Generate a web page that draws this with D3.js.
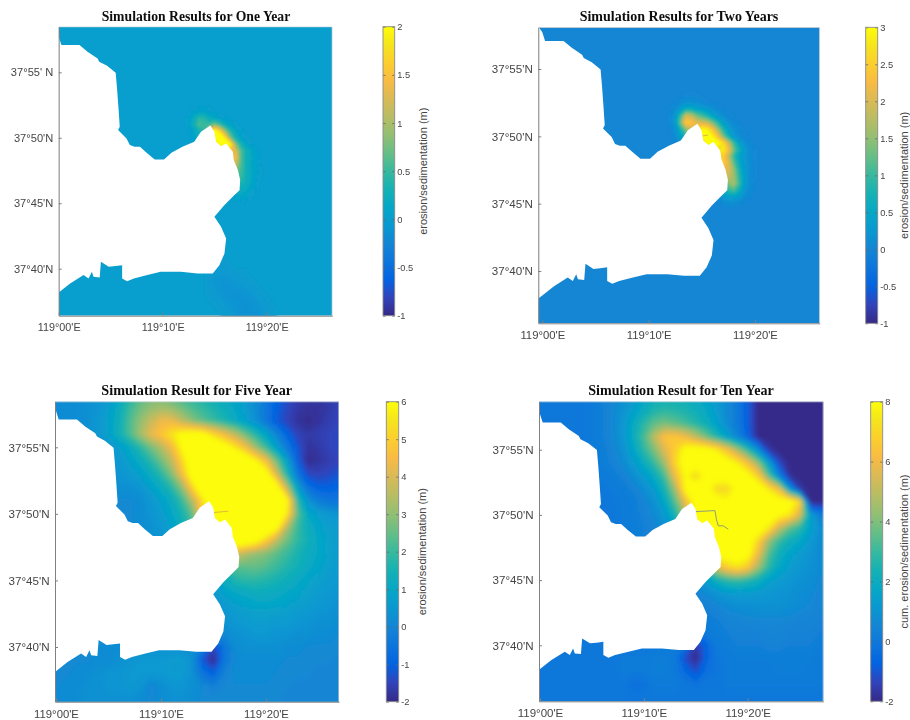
<!DOCTYPE html>
<html>
<head>
<meta charset="utf-8">
<script src="https://cdn.jsdelivr.net/npm/d3@7"></script>
<style>
  html, body { margin: 0; background: #fff; }
  svg { display: block; }
  text { font-family: "Liberation Sans", Arial, sans-serif; fill: #454545; }
  .title { font-family: "Liberation Serif", serif; font-weight: bold; fill: #111; }
</style>
</head>
<body>
<svg id="chart" width="910" height="720"></svg>
<script>
// ---- data ----
const lonTicks = [0, 10, 20];
const latTicks = [55, 50, 45, 40];
const lonLabels = ["119°00'E", "119°10'E", "119°20'E"];
const latLabelsOne = ["37°55' N", "37°50'N", "37°45'N", "37°40'N"];
const latLabels = ["37°55'N", "37°50'N", "37°45'N", "37°40'N"];

const titles = [
  "Simulation Results for One Year",
  "Simulation Results for Two Years",
  "Simulation Result for Five Year",
  "Simulation Result for Ten Year"
];
const barLabels = [
  "erosion/sedimentation (m)",
  "erosion/sedimentation (m)",
  "erosion/sedimentation (m)",
  "cum. erosion/sedimentation (m)"
];
const barTicksOne = [-1, -0.5, 0, 0.5, 1, 1.5, 2];
const barTicksTwo = [-1, -0.5, 0, 0.5, 1, 1.5, 2, 2.5, 3];
const barTicksFive = [-2, -1, 0, 1, 2, 3, 4, 5, 6];
const barTicksTen = [-2, 0, 2, 4, 6, 8];

// coast, as [minutes east of 119°, minutes north of 37°]
const coast = [
  [-2, 60], [0, 57.72], [0.26, 57.08], [2, 57.08], [2.77, 56.57], [3.74, 56.06], [3.9, 55.81],
  [4.65, 55.5], [5.48, 54.97], [5.61, 53.77], [5.74, 52.37], [5.87, 50.84], [5.71, 50.59],
  [6.52, 49.95], [6.84, 49.44], [7.29, 49.31], [7.81, 49.31], [8.45, 48.85], [9.23, 48.34],
  [10.13, 48.34], [10.84, 48.85], [11.9, 49.31], [13.03, 49.69], [13.68, 50.46], [14.58, 50.94],
  [14.97, 50.46], [15.13, 49.69], [15.61, 49.36], [16.1, 49.57], [16.74, 48.93], [16.84, 48.29],
  [17.23, 47.53], [17.45, 46.77], [17.39, 46], [16.9, 45.62], [15.94, 44.86], [14.97, 43.96],
  [15.61, 43.2], [16.1, 42.31], [15.94, 41.16], [15.45, 40.27], [14.81, 39.64], [13.35, 39.64],
  [11.74, 39.76], [9.81, 39.76], [8.52, 39.51], [7.23, 39.25], [6.58, 39.05], [6.1, 39.25],
  [6.1, 40.27], [5.45, 40.2], [4.81, 40.15], [4.06, 40.53], [3.94, 39.33], [3.35, 39.38],
  [3.19, 39.76], [2.87, 39.25], [2.39, 39.51], [1.1, 38.87], [0, 38.18], [-2, 37]
];

// thin structures visible inside the deposit
const dykeTwo = [[14.83, 50], [15.6, 50.1]];
const dykeFive = [[15, 50.1], [16.4, 50.2]];
const dykeTen = [[14.93, 50.25], [16.85, 50.33], [17, 49.62], [17.17, 49.16], [17.65, 49.16], [18.13, 48.9]];

// fine fields near the headland: lon 12..20, lat 53..45, every 0.5'
const tipOne = [
  [0,0,0,0,0,0,0,0,0,0,0,0,0,0,0,0,0],
  [0,0,0,0,0,0,0,0,0,0,0,0,0,0,0,0,0],
  [0,0,.05,.08,.08,.05,.02,0,0,0,0,0,0,0,0,0,0],
  [0,.05,.2,.45,.4,.2,.12,.06,.02,0,0,0,0,0,0,0,0],
  [0,.05,.25,.6,.5,.5,.8,.5,.2,.08,.03,0,0,0,0,0,0],
  [0,0,.1,.3,.4,1.6,2.2,1.7,.9,.4,.15,.05,0,0,0,0,0],
  [0,0,.1,.2,.4,1.6,2.4,2.4,1.8,.8,.3,.1,.03,0,0,0,0],
  [0,0,0,.1,.2,.4,1.4,2.2,2.4,2,.8,.35,.12,.04,0,0,0],
  [0,0,0,0,.1,.2,.3,.6,1,1.5,1.3,.6,.3,.15,.05,0,0],
  [0,0,0,0,0,.1,.2,.4,.8,1.3,1.5,.6,.3,.15,.06,0,0],
  [0,0,0,0,0,0,.1,.2,.5,1.1,1.2,.6,.3,.15,.05,0,0],
  [0,0,0,0,0,0,0,.1,.3,.6,.8,.55,.3,.15,.06,.02,0],
  [0,0,0,0,0,0,0,.05,.2,.4,.5,.5,.3,.15,.05,.02,0],
  [0,0,0,0,0,0,0,0,.1,.2,.3,.35,.25,.12,.04,0,0],
  [0,0,0,0,0,0,0,0,.05,.1,.2,.2,.15,.08,.03,0,0],
  [0,0,0,0,0,0,0,0,0,.05,.1,.1,.08,.04,0,0,0],
  [0,0,0,0,0,0,0,0,0,0,0,0,0,0,0,0,0]
];
const tipTwo = [
  [0,0,.02,.03,.03,.03,.02,.01,0,0,0,0,0,0,0,0,0],
  [0,.03,.1,.16,.16,.12,.08,.04,.02,0,0,0,0,0,0,0,0],
  [.03,.12,.4,.7,.65,.5,.4,.3,.16,.08,.03,0,0,0,0,0,0],
  [.05,.25,1,2,1.9,1.4,1.1,.8,.5,.28,.14,.05,.02,0,0,0,0],
  [.05,.3,1.3,2.5,2.4,2.1,2,1.9,1.4,.85,.42,.2,.08,.02,0,0,0],
  [0,.15,.7,1.4,1.8,2.6,3,2.9,2.4,1.6,.85,.4,.18,.07,.02,0,0],
  [0,.1,.4,.8,1.2,2.6,3.2,3.2,2.9,2.3,1.4,.7,.3,.12,.04,0,0],
  [0,0,.2,.4,.6,1,2.2,3.2,3.3,3.1,2.7,1.9,1,.45,.18,.06,0],
  [0,0,.1,.2,.4,.7,1,1.5,2.2,2.6,2.9,2.3,1.3,.7,.32,.12,.03],
  [0,0,0,.1,.2,.4,.7,1.2,1.8,2.7,2.5,1.8,.95,.5,.25,.1,.03],
  [0,0,0,0,.1,.2,.4,.7,1.3,2.5,2.5,2.1,1.2,.6,.3,.12,.03],
  [0,0,0,0,0,.1,.2,.4,.8,1.5,2,2.1,1.5,.75,.33,.12,.03],
  [0,0,0,0,0,0,.1,.2,.5,1,1.5,1.9,1.6,.9,.36,.12,.03],
  [0,0,0,0,0,0,0,.1,.3,.6,1,1.4,1.7,1,.35,.12,.02],
  [0,0,0,0,0,0,0,.05,.15,.3,.6,.9,1.1,.7,.28,.08,.02],
  [0,0,0,0,0,0,0,0,.05,.1,.3,.4,.4,.3,.12,.04,0],
  [0,0,0,0,0,0,0,0,0,0,.05,.08,.08,.05,.02,0,0]
];
// faint scour south of the headland, one year: lon 13..21, lat 42..36, every 1'
const southOne = [
  [0,0,0,0,0,0,0,0,0],
  [0,0,0,0,0,0,0,0,0],
  [0,0,-.02,-.03,0,0,0,0,0],
  [0,0,-.08,-.1,-.06,-.02,0,0,0],
  [0,0,-.03,-.1,-.12,-.1,-.04,0,0],
  [0,0,0,-.03,-.1,-.14,-.1,-.03,0],
  [0,0,0,0,-.05,-.12,-.12,-.05,0]
];

// whole-domain fields: lon -1..28, lat 59..36, every 1'
const fieldFive = [
  [.1,.1,.2,.2,.3,.4,.6,1,1.6,2.2,2.6,2.6,2.4,2,1.7,1.5,1.3,1.1,.9,.6,.2,-.3,-.9,-1.3,-1.6,-1.7,-1.7,-1.6,-1.5,-1.5],
  [.1,.1,.2,.2,.3,.4,.7,1.2,2,2.6,3,3.2,3,2.6,2.2,1.9,1.6,1.3,1,.7,.2,-.4,-1,-1.4,-1.7,-1.8,-1.8,-1.7,-1.5,-1.5],
  [.1,.1,.2,.2,.3,.5,.8,1.3,2.2,3,3.7,4.3,4.3,3.6,2.9,2.4,2,1.6,1.2,.8,.3,-.4,-1.1,-1.5,-1.8,-1.95,-1.8,-1.6,-1.5,-1.5],
  [.1,.1,.2,.2,.3,.5,.8,1.4,2.2,3.2,4.2,4.8,5.5,6.1,6.3,6.1,5.2,4.4,3.6,2.6,1.7,.9,0,-.9,-1.5,-1.7,-1.6,-1.5,-1.4,-1.4],
  [.1,.1,.1,.2,.2,.3,.5,.7,1.1,1.8,2.6,3.4,4.4,6,7,7,7,6.5,5.6,4.6,3.2,2,.8,-.3,-1.2,-1.8,-1.7,-1.5,-1.4,-1.4],
  [.1,.1,.1,.1,.2,.2,.4,.5,.8,1.2,1.8,2.6,3.6,5.2,6.8,7.5,7.5,7.5,7.5,6.8,5.8,4.5,2.6,.8,-1,-1.95,-1.8,-1.6,-1.5,-1.5],
  [.1,.1,.1,.1,.1,.2,.3,.4,.6,.8,1.2,1.8,2.8,4.5,6.5,7.5,7.5,7.5,7.5,7.5,7.5,6.4,4,1.6,-.4,-1.4,-1.5,-1.4,-1.2,-1.2],
  [.1,.1,.1,.1,.1,.1,.2,.3,.3,.4,.8,1.2,1.8,3,5.2,7,7.5,7.5,7.5,7.5,7.5,7.5,6.4,3.5,.8,-.6,-1,-1,-.9,-.9],
  [0,0,.1,.1,.1,.1,.1,.1,.1,.2,.5,.8,1.2,2,3.5,5.5,7,7.5,7.5,7.5,7.5,7.5,7.2,6,1.8,.4,-.2,-.5,-.5,-.5],
  [0,0,.1,.1,.1,.1,.1,.1,.1,.2,.4,.6,1,1.5,2.5,5,7,7.5,7.5,7.5,7.5,7.5,7,5.6,2.4,1,.7,.5,.4,.4],
  [0,0,.1,.1,.1,.1,.1,.1,.1,.2,.3,.5,.8,1.2,2,4,7,7.5,7.5,7.5,7.5,7,6.2,3.4,2,1.3,.9,.7,.6,.6],
  [0,0,.1,.1,.1,.1,.1,.1,.1,.2,.3,.4,.6,.8,1.5,3,6,7,7,6.8,6.2,5,3.6,2.6,1.9,1.4,1,.8,.6,.6],
  [0,0,.1,.1,.1,.1,.1,.1,.1,.2,.2,.3,.4,.4,.5,.6,1,3,4,3.4,3,2.8,2.4,2,1.6,1.2,1,.8,.6,.6],
  [0,0,.1,.1,.1,.1,.1,.1,.1,.1,.2,.2,.3,.3,.4,.5,.8,1.5,2.4,2.4,2.5,2.3,2,1.7,1.4,1.1,.9,.7,.6,.6],
  [0,0,.1,.1,.1,.1,.1,.1,.1,.1,.2,.2,.3,.3,.4,.4,.6,1.2,1.6,1.8,1.8,1.7,1.5,1.3,1.1,.9,.8,.6,.5,.5],
  [0,0,.1,.1,.1,.1,.1,.1,.1,.1,.2,.2,.3,.3,.4,.4,.6,.8,1,1.1,1.2,1.2,1.1,1,.9,.8,.6,.5,.4,.4],
  [0,0,.1,.1,.1,.1,.1,.1,.1,.1,.2,.2,.3,.3,.3,.3,.4,.5,.7,.8,.9,.9,.9,.8,.7,.6,.5,.4,.3,.3],
  [0,0,.1,.1,.1,.1,.1,.1,.1,.1,.2,.2,.2,.2,.3,.3,.3,.4,.5,.6,.7,.7,.6,.6,.5,.4,.3,.3,.2,.2],
  [0,0,.1,.1,.1,.1,.1,.1,.2,.2,.2,.2,.2,.2,.2,.2,.2,.1,.3,.4,.5,.5,.4,.4,.3,.3,.2,.2,.1,.1],
  [0,0,.1,.1,.1,.1,.2,.2,.3,.3,.3,.3,.3,.3,.3,-.3,-1.5,-.5,.2,.3,.3,.3,.3,.2,.2,.1,.1,.1,.1,.1],
  [0,.1,.1,.1,.1,.2,.2,.3,.4,.5,.5,.5,.6,.6,.3,-1.2,-2,-.4,.1,.2,.2,.2,.2,.1,.1,.1,.1,.1,0,0],
  [0,.1,.1,.2,.2,.3,.4,.4,.5,.5,.5,.5,.6,.6,.3,-.5,-.9,-.1,.2,.2,.2,.2,.1,.1,.1,.1,0,0,0,0],
  [.1,.1,.2,.2,.3,.3,.4,.4,.5,.4,0,.2,.4,.4,.3,.1,-.1,.1,.1,.1,.1,.1,.1,.1,0,0,0,0,0,0],
  [.1,.1,.2,.2,.3,.3,.3,.3,.3,.2,.1,.2,.3,.3,.2,.1,.1,.1,.1,.1,.1,.1,.1,0,0,0,0,0,0,0]
];
const fieldTen = [
  [0,0,0,0,0,0,.1,.3,.5,.8,1.2,1.7,2.1,2.2,2.2,2.1,1.9,1.6,1.2,.7,.1,-.8,-2,-2.2,-2.2,-2.2,-2.2,-2.2,-2.2,-2.2],
  [0,0,0,0,0,0,.1,.3,.6,1,1.5,2,2.6,2.8,2.7,2.5,2.2,1.8,1.3,.7,.1,-.8,-2,-2.2,-2.2,-2.2,-2.2,-2.2,-2.2,-2.2],
  [0,0,0,0,0,0,.1,.3,.6,1.1,1.9,2.8,3.6,3.9,3.6,3.2,2.7,2.2,1.5,.8,.1,-.8,-2.1,-2.2,-2.2,-2.2,-2.2,-2.2,-2.2,-2.2],
  [0,0,0,0,0,0,.1,.3,.6,1.1,2,3.2,5,6.4,6.5,6,5,3.8,2.6,1.5,.5,-.6,-2,-2.2,-2.2,-2.2,-2.2,-2.2,-2.2,-2.2],
  [0,0,0,0,0,0,.1,.2,.5,.9,1.7,2.8,4,5.6,6.8,8.2,8.5,8.3,7.6,6.3,4.6,2.8,.8,-1.6,-2.2,-2.2,-2.2,-2.2,-2.2,-2.2],
  [0,0,0,0,0,0,.1,.2,.4,.7,1.3,2,3,4.5,7,8.5,8.5,8.5,8.5,8.4,7.6,6.2,4.2,1.5,-1.2,-2.2,-2.2,-2.2,-2.2,-2.2],
  [0,0,0,0,0,0,0,.1,.2,.4,.8,1.3,2,3.2,6,8,7,8.2,8.5,8.5,8.5,8.2,6.8,3.5,.5,-1.8,-2.2,-2.2,-2.2,-2.2],
  [0,0,0,0,0,0,0,0,.1,.2,.4,.8,1.3,2.4,4.5,8,8.5,8.3,7,7,8.2,8.5,8.5,7.5,6,1.2,-1.6,-2.2,-2.2,-2.2],
  [0,0,0,0,0,0,0,0,0,.1,.2,.5,.9,1.8,3.4,6,8.5,8.5,8.5,8,8.2,8.5,8.5,8.5,8.5,8.5,7,-2.2,-2.2,-2.2],
  [0,0,0,0,0,0,0,0,0,.1,.2,.4,.7,1.2,2.4,4.5,8.5,8.5,8.5,8.5,8.5,8.5,8.5,8.5,8,7.5,5.5,1.5,.3,.1],
  [0,0,0,0,0,0,0,0,0,.1,.2,.3,.5,.8,1.5,3,7,8.5,8.5,8.5,8.5,8.5,8.5,7.5,5.2,3.6,2.8,1.6,.8,.5],
  [0,0,0,0,0,0,0,0,0,.1,.2,.3,.5,.7,1,1.6,3,7,8.5,8.5,8.5,8.5,7,4.4,3,2.2,1.8,1.2,.7,.5],
  [0,0,0,0,0,0,0,0,0,.1,.2,.2,.3,.5,.7,1.2,2,5,8.5,8.5,8.5,8.3,6,3.4,2.2,1.6,1.3,1,.7,.5],
  [0,0,0,0,0,0,0,0,0,.1,.1,.2,.3,.4,.5,.8,1.2,3,5.5,6.8,7.4,6.6,4.6,2.8,1.8,1.4,1.1,.9,.7,.5],
  [0,0,0,0,0,0,0,0,0,.1,.1,.1,.2,.3,.3,.5,.8,1.5,2.2,2.8,3,2.7,2.2,1.6,1.3,1.1,.9,.8,.6,.5],
  [0,0,0,0,0,0,0,0,0,.1,.1,.1,.1,.2,.2,.3,.5,.7,1,1.2,1.3,1.3,1.2,1.1,1,.9,.8,.7,.5,.4],
  [0,0,0,0,0,0,0,0,0,0,0,.1,.1,.1,.2,.2,.3,.4,.5,.7,.8,.8,.9,.9,.9,.8,.7,.6,.5,.4],
  [0,0,0,0,0,0,0,0,0,0,0,.1,.1,.1,.1,.2,.2,.2,.3,.5,.5,.6,.6,.6,.6,.6,.5,.5,.4,.3],
  [0,0,0,0,0,0,0,0,0,0,0,0,.1,.1,.1,.1,.1,.1,.2,.3,.4,.4,.4,.5,.5,.4,.4,.4,.3,.2],
  [0,0,0,0,0,0,0,0,0,0,0,0,0,.1,.1,-.2,-1.6,-.6,.1,.2,.3,.3,.3,.4,.4,.3,.3,.3,.2,.2],
  [0,0,0,0,0,0,0,0,0,.1,.1,.1,.2,.2,.1,-1.2,-2.2,-.6,0,.1,.2,.2,.2,.2,.2,.2,.2,.2,.1,.1],
  [0,0,0,0,0,0,0,0,0,.1,.1,.1,.2,.2,.1,-.5,-1.1,-.3,-.1,.1,.1,.1,.1,.1,.2,.2,.2,.1,.1,.1],
  [0,0,0,0,0,0,0,0,0,0,-.3,-.2,.1,.1,.1,0,-.2,0,0,.1,.1,.1,.1,.1,.1,.1,.1,.1,.1,0],
  [0,0,0,0,0,0,0,0,0,0,-.1,0,0,0,0,0,0,0,0,0,0,0,0,0,0,0,0,0,0,0]
];

// colour ramp of the colour bars, low to high
const ramp = ["#352a87","#3243ba","#0363e1","#0d75dc","#1485d4","#0998d1","#06a7c6","#15b1b4","#38b99e",
  "#65be86","#92bf73","#b7bd64","#d9ba56","#f8bb44","#fcce2e","#f5e41d","#fdfd08"];

// ---- layout ----
const panels = [
  { left: 58.7, right: 332.3, top: 26.7, bottom: 315.7, lonPx: [58.7, 266.7], latPx: [72.3, 268.7],
    lo: -1, hi: 2, title: titles[0], titleX: 196, titleY: 21, titleSize: 13.7, latText: latLabelsOne,
    lonSize: 10.8, latSize: 11.1, ticks: barTicksOne,
    barX: 383, barW: 11.7, barLabelX: 427, barLabel: barLabels[0], blur: "blurTip", dyke: null,
    layers: [{ lon0: 13, lat0: 42, step: 1, rows: southOne, mode: "below" },
             { lon0: 12, lat0: 53, step: 0.5, rows: tipOne, mode: "above" }] },
  { left: 538.3, right: 819.7, top: 27.3, bottom: 323.3, lonPx: [542.3, 755], latPx: [69, 271],
    lo: -1, hi: 3, title: titles[1], titleX: 679, titleY: 21, titleSize: 14, latText: latLabels,
    lonSize: 11.3, latSize: 11.6, ticks: barTicksTwo,
    barX: 865.7, barW: 12, barLabelX: 907.5, barLabel: barLabels[1], blur: "blurTip", dyke: dykeTwo,
    layers: [{ lon0: 12, lat0: 53, step: 0.5, rows: tipTwo, mode: "above" }] },
  { left: 55, right: 339, top: 401.7, bottom: 701.7, lonPx: [56, 266], latPx: [447.3, 647],
    lo: -2, hi: 6, title: titles[2], titleX: 196.7, titleY: 395, titleSize: 14.2, latText: latLabels,
    lonSize: 11.3, latSize: 11.6, ticks: barTicksFive,
    barX: 386.3, barW: 12.4, barLabelX: 425.5, barLabel: barLabels[2], blur: "blurField", dyke: dykeFive,
    layers: [{ lon0: -1, lat0: 59, step: 1, rows: fieldFive, mode: "full" }] },
  { left: 539, right: 823.3, top: 401.7, bottom: 701.3, lonPx: [540, 747.7], latPx: [449.7, 645.3],
    lo: -2, hi: 8, title: titles[3], titleX: 681, titleY: 395, titleSize: 14.1, latText: latLabels,
    lonSize: 11.5, latSize: 11.6, ticks: barTicksTen,
    barX: 870.7, barW: 12, barLabelX: 907.5, barLabel: barLabels[3], blur: "blurField", dyke: dykeTen,
    layers: [{ lon0: -1, lat0: 59, step: 1, rows: fieldTen, mode: "full" }] }
];

const levels = 192;
const parula = d3.scaleLinear()
  .domain(ramp.map((c, i) => i / (ramp.length - 1)))
  .range(ramp)
  .interpolate(d3.interpolateRgb)
  .clamp(true);

const svg = d3.select("#chart");
const defs = svg.append("defs");
[["blurTip", 0.8], ["blurField", 2], ["soft", 0.6], ["textSoft", 0.35]].forEach(([id, sd]) => {
  defs.append("filter").attr("id", id)
    .attr("x", "-5%").attr("y", "-5%").attr("width", "110%").attr("height", "110%")
    .append("feGaussianBlur").attr("stdDeviation", sd);
});
defs.append("linearGradient").attr("id", "barRamp")
  .attr("x1", 0).attr("y1", 1).attr("x2", 0).attr("y2", 0)
  .selectAll("stop")
  .data(ramp)
  .enter()
  .append("stop")
  .attr("offset", (c, i) => i / (ramp.length - 1))
  .attr("stop-color", (c) => c);

let drawPanel = (p, idx) => {
  let x = d3.scaleLinear().domain([0, 20]).range(p.lonPx);
  x.domain([x.invert(p.left), x.invert(p.right)]).range([p.left, p.right]);
  let y = d3.scaleLinear().domain([55, 40]).range(p.latPx);
  y.domain([y.invert(p.top), y.invert(p.bottom)]).range([p.top, p.bottom]);

  let bands = d3.range(levels).map((i) => ({
    value: p.lo + (p.hi - p.lo) * i / levels,
    color: parula((i + 0.5) / levels)
  }));
  let zeroBand = Math.floor((0 - p.lo) / (p.hi - p.lo) * levels);

  defs.append("clipPath").attr("id", "plot" + idx).append("rect")
    .attr("x", p.left).attr("y", p.top).attr("width", p.right - p.left).attr("height", p.bottom - p.top);

  let plot = svg.append("g").attr("clip-path", "url(#plot" + idx + ")");
  plot.append("rect")
    .attr("x", p.left).attr("y", p.top).attr("width", p.right - p.left).attr("height", p.bottom - p.top)
    .attr("fill", bands[zeroBand].color);

  let fieldGroup = plot.append("g").attr("filter", "url(#" + p.blur + ")");
  p.layers.forEach((layer) => {
    let n = layer.rows[0].length;
    let m = layer.rows.length;
    let flat = layer.rows.flat().map((v) => Math.max(p.lo, v));
    let project = d3.geoTransform({
      point: function (gx, gy) {
        this.stream.point(x(layer.lon0 + (gx - 0.5) * layer.step), y(layer.lat0 - (gy - 0.5) * layer.step));
      }
    });
    let path = d3.geoPath(project);

    // "below" draws only what falls under the background colour, "above" only what rises over it
    let used = bands;
    let values = flat;
    let thresholds = bands.map((b) => b.value);
    if (layer.mode === "above") {
      used = bands.slice(zeroBand + 1);
      thresholds = used.map((b) => b.value);
    } else if (layer.mode === "below") {
      used = bands.slice(0, zeroBand).reverse();
      thresholds = used.map((b, i) => -bands[zeroBand - i].value + 1e-6);
      values = flat.map((v) => -v);
    }
    let contours = d3.contours().size([n, m]).thresholds(thresholds)(values);

    fieldGroup.append("g").selectAll("path")
      .data(contours)
      .enter()
      .append("path")
      .attr("d", path)
      .attr("fill", (c, i) => used[i].color);
  });

  let line = d3.line().x((d) => x(d[0])).y((d) => y(d[1]));
  if (p.dyke) {
    plot.append("path").attr("d", line(p.dyke))
      .attr("fill", "none")
      .attr("stroke", idx === 3 ? "#8f9f78" : "#d89a50")
      .attr("stroke-width", idx === 3 ? 1 : 0.7);
  }
  plot.append("path").attr("d", line(coast) + "Z")
    .attr("fill", "#fff").attr("filter", "url(#soft)");

  // axes
  plot.append("path")
    .attr("d", "M" + p.left + "," + p.top + "H" + p.right + "V" + p.bottom)
    .attr("fill", "none").attr("stroke", "#cfcfcf").attr("stroke-width", 1.2);

  let xAxis = d3.axisBottom(x).tickValues(lonTicks).tickFormat((d, i) => lonLabels[i])
    .tickSizeInner(-3).tickSizeOuter(0).tickPadding(8);
  let yAxis = d3.axisLeft(y).tickValues(latTicks).tickFormat((d, i) => p.latText[i])
    .tickSizeInner(-3).tickSizeOuter(0).tickPadding(5.5);
  let styleAxis = (g, size) => {
    g.attr("font-family", null).attr("font-size", null);
    g.selectAll("path").attr("stroke", "#808080").attr("stroke-width", 1);
    g.selectAll("line").attr("stroke", "#808080");
    g.selectAll("text").style("font-size", size + "px").attr("filter", "url(#textSoft)");
  };
  svg.append("g").attr("transform", "translate(0," + p.bottom + ")").call(xAxis).call(styleAxis, p.lonSize);
  svg.append("g").attr("transform", "translate(" + p.left + ",0)").call(yAxis).call(styleAxis, p.latSize);

  svg.append("text").attr("class", "title").attr("x", p.titleX).attr("y", p.titleY)
    .attr("text-anchor", "middle").style("font-size", p.titleSize + "px")
    .attr("filter", "url(#textSoft)").text(p.title);

  // colour bar
  let barY = d3.scaleLinear().domain([p.lo, p.hi]).range([p.bottom, p.top]);
  svg.append("rect")
    .attr("x", p.barX)
    .attr("width", p.barW)
    .attr("y", barY(p.hi))
    .attr("height", barY(p.lo) - barY(p.hi))
    .attr("fill", "url(#barRamp)");

  let barAxis = d3.axisRight(barY).tickValues(p.ticks).tickFormat((d) => String(d))
    .tickSize(0).tickPadding(p.barW + 2.5);
  svg.append("g").attr("transform", "translate(" + p.barX + ",0)").call(barAxis)
    .call((g) => {
      g.attr("font-family", null).attr("font-size", null);
      g.select(".domain").remove();
      g.selectAll("text").style("font-size", "9.3px").attr("filter", "url(#textSoft)");
      g.selectAll("line")
        .attr("x2", p.barW)
        .attr("stroke", "#666")
        .attr("stroke-opacity", 0.8)
        .attr("stroke-dasharray", "2.5," + (p.barW - 5) + ",2.5");
    });
  svg.append("rect").attr("x", p.barX).attr("y", p.top).attr("width", p.barW).attr("height", p.bottom - p.top)
    .attr("fill", "none").attr("stroke", "#8a8a8a").attr("stroke-width", 0.9);

  svg.append("text")
    .attr("transform", "translate(" + p.barLabelX + "," + ((p.top + p.bottom) / 2) + ") rotate(-90)")
    .attr("text-anchor", "middle")
    .style("font-size", "11px")
    .text(p.barLabel);
};

panels.forEach(drawPanel);
</script>
</body>
</html>
